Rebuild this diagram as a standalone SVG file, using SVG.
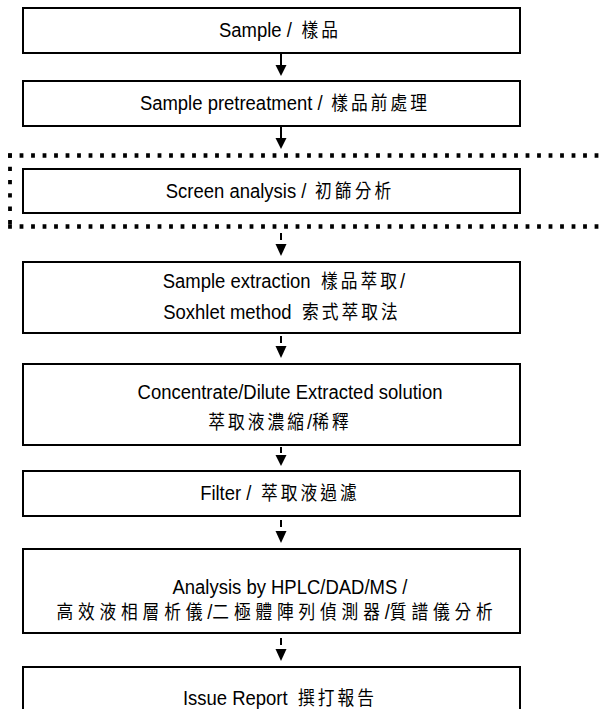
<svg xmlns="http://www.w3.org/2000/svg" width="604" height="709" viewBox="0 0 604 709">
<style>
.box{fill:#fff;stroke:#000;stroke-width:2}
.t{font-family:"Liberation Sans","Noto Sans CJK TC",sans-serif;font-size:21px;fill:#000;text-anchor:middle}
.c{font-family:"Noto Sans CJK TC","Noto Sans CJK SC",sans-serif;font-size:19px;letter-spacing:3.5px}
.w{letter-spacing:5.5px}
.dh{stroke:#000;stroke-width:4.3;stroke-dasharray:3.8 7.7;fill:none}
.dv{stroke:#000;stroke-width:3.8;stroke-dasharray:4.3 9;fill:none}
.sh{stroke:#000;stroke-width:2;fill:none}
.hd{fill:#000}
</style>
<g id="frame">
<line class="dh" x1="8.1" y1="155.5" x2="604" y2="155.5"/>
<line class="dv" x1="10" y1="153.4" x2="10" y2="228"/>
<line class="dh" x1="8.1" y1="226.5" x2="604" y2="226.5"/>
</g>
<g id="n1"><rect class="box" x="23" y="8" width="497" height="45"/><text class="t" transform="translate(280,37) scale(0.88,1)">Sample / <tspan class="c" dx="5">樣品</tspan></text></g>
<g id="n2"><rect class="box" x="23" y="81" width="497" height="45"/><text class="t" transform="translate(285,110) scale(0.88,1)">Sample pretreatment / <tspan class="c" dx="4">樣品前處理</tspan></text></g>
<g id="n3"><rect class="box" x="23" y="169" width="497" height="44"/><text class="t" transform="translate(280,198) scale(0.88,1)">Screen analysis / <tspan class="c" dx="4">初篩分析</tspan></text></g>
<g id="n4"><rect class="box" x="23" y="262" width="497" height="71"/><text class="t" transform="translate(284,288) scale(0.88,1)">Sample extraction <tspan class="c" dx="6">樣品萃取</tspan>/</text><text class="t" transform="translate(282,319) scale(0.88,1)">Soxhlet method <tspan class="c" dx="6">索式萃取法</tspan></text></g>
<g id="n5"><rect class="box" x="23" y="364" width="497" height="81"/><text class="t" transform="translate(290,399) scale(0.88,1)">Concentrate/Dilute Extracted solution</text><text class="t" transform="translate(280,429) scale(0.88,1)"><tspan class="c">萃取液濃縮</tspan>/<tspan class="c">稀釋</tspan></text></g>
<g id="n6"><rect class="box" x="23" y="471" width="497" height="45"/><text class="t" transform="translate(280,500) scale(0.88,1)">Filter / <tspan class="c" dx="5">萃取液過濾</tspan></text></g>
<g id="n7"><rect class="box" x="23" y="549" width="497" height="84"/><text class="t" transform="translate(290,594) scale(0.88,1)">Analysis by HPLC/DAD/MS /</text><text class="t" transform="translate(277,619) scale(0.88,1)"><tspan class="c w">高效液相層析儀</tspan>/<tspan class="c w">二極體陣列偵測器</tspan>/<tspan class="c w">質譜儀分析</tspan></text></g>
<g id="n8"><rect class="box" x="23" y="667" width="497" height="60"/><text class="t" transform="translate(280,705) scale(0.88,1)">Issue Report <tspan class="c" dx="6">撰打報告</tspan></text></g>
<g id="connectors">
<line class="sh" x1="281" y1="53" x2="281" y2="66"/><polygon class="hd" points="275.5,65 286.5,65 281,76"/>
<line class="sh" x1="281" y1="126" x2="281" y2="139"/><polygon class="hd" points="275.5,138 286.5,138 281,149"/>
<line class="sh" x1="281" y1="233" x2="281" y2="240"/><polygon class="hd" points="275.5,244 286.5,244 281,256"/>
<line class="sh" x1="281" y1="336" x2="281" y2="343"/><polygon class="hd" points="275.5,346 286.5,346 281,358"/>
<line class="sh" x1="281" y1="447" x2="281" y2="453"/><polygon class="hd" points="275.5,455 286.5,455 281,466"/>
<line class="sh" x1="281" y1="520" x2="281" y2="527"/><polygon class="hd" points="275.5,531 286.5,531 281,543"/>
<line class="sh" x1="281" y1="638" x2="281" y2="645"/><polygon class="hd" points="275.5,649 286.5,649 281,661"/>
</g>
</svg>
